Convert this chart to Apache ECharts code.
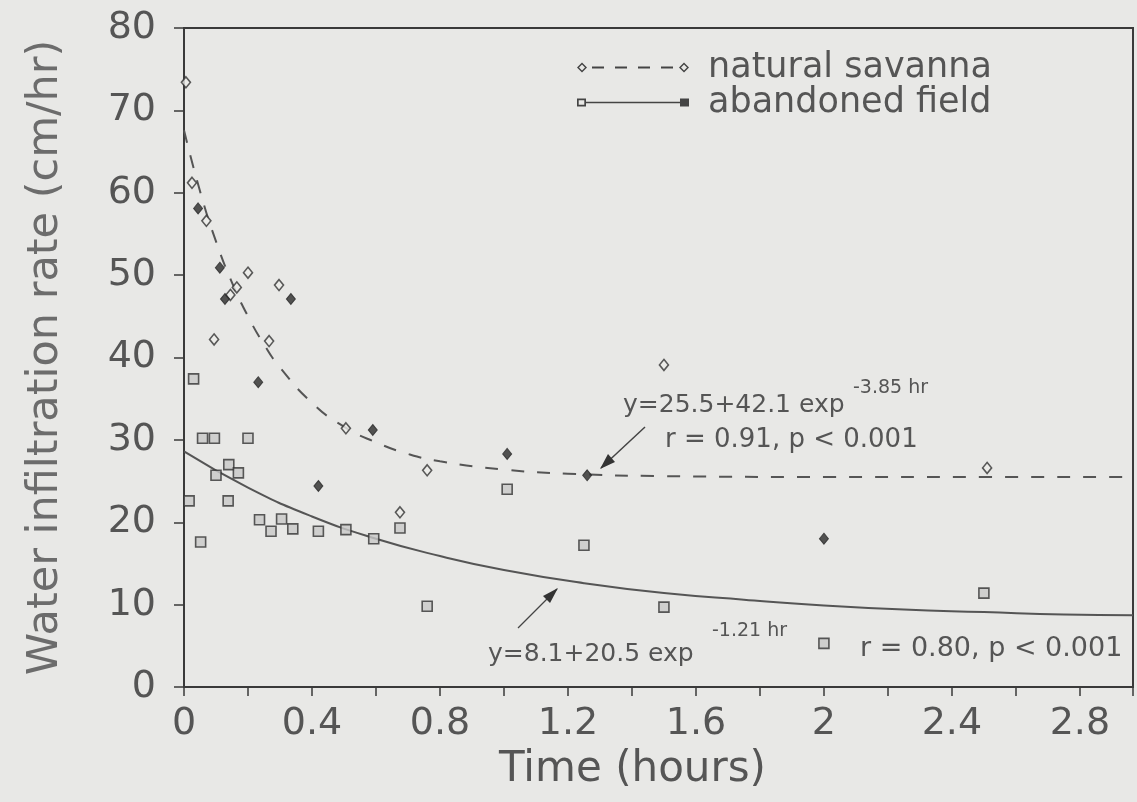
<!DOCTYPE html>
<html>
<head>
<meta charset="utf-8">
<title>Water infiltration rate</title>
<script src="https://cdn.jsdelivr.net/npm/echarts@6/dist/echarts.min.js"></script>
<style>
    html, body { margin: 0; padding: 0; background: #e8e8e6; }
    #main { width: 1137px; height: 802px; }
</style>
</head>
<body>
<div id="main"></div>
<script>
// natural savanna, open markers [hours, cm/hr]
var savannaOpen = [
    [0.006, 73.4], [0.025, 61.2], [0.07, 56.6], [0.145, 47.6], [0.165, 48.5],
    [0.2, 50.3], [0.297, 48.8], [0.094, 42.2], [0.266, 42.0], [0.506, 31.4],
    [0.76, 26.3], [0.675, 21.2], [1.5, 39.1], [2.51, 26.6]
];
// natural savanna, filled markers
var savannaFilled = [
    [0.044, 58.1], [0.112, 50.9], [0.128, 47.1], [0.334, 47.1], [0.232, 37.0],
    [0.59, 31.2], [0.42, 24.4], [1.01, 28.3], [1.26, 25.7], [2.0, 18.0]
];
// abandoned field
var fieldPoints = [
    [0.03, 37.4], [0.058, 30.2], [0.095, 30.2], [0.2, 30.2], [0.016, 22.6],
    [0.138, 22.6], [0.052, 17.6], [0.1, 25.7], [0.14, 27.0], [0.17, 26.0],
    [0.236, 20.3], [0.272, 18.9], [0.305, 20.4], [0.34, 19.2], [0.42, 18.9],
    [0.506, 19.1], [0.593, 18.0], [0.675, 19.3], [0.76, 9.8], [1.01, 24.0],
    [1.25, 17.2], [1.5, 9.7], [2.0, 5.3], [2.5, 11.4]
];
// fitted curves
var savannaFitT = [0, 0.05, 0.1, 0.15, 0.2, 0.25, 0.3, 0.4, 0.5, 0.6, 0.7, 0.8, 1.0, 1.2, 1.5, 2.0, 2.5, 2.966];
var savannaFitY = [67.6, 60.2, 54.1, 49.1, 45.0, 41.6, 38.8, 34.5, 31.6, 29.7, 28.3, 27.4, 26.4, 25.9, 25.6, 25.5, 25.5, 25.5];
var fieldFitT = [0, 0.2, 0.4, 0.6, 0.8, 1.0, 1.25, 1.5, 1.75, 2.0, 2.25, 2.5, 2.75, 2.966];
var fieldFitY = [28.6, 24.2, 20.7, 18.0, 15.9, 14.2, 12.6, 11.4, 10.6, 9.9, 9.4, 9.1, 8.8, 8.7];

var xTickLabels = ['0', '0.4', '0.8', '1.2', '1.6', '2', '2.4', '2.8'];

function zip(xs, ys) {
    return xs.map(function (x, i) { return [x, ys[i]]; });
}

var FONT = '"DejaVu Sans", sans-serif';
var INK = '#555';

// legend keys drawn like the original: marker - line - marker (inner subpaths make hollow shapes)
var savannaIcon = 'path://M0,5L5,0L10,5L5,10Z M2,5L5,8L8,5L5,2Z' +
    ' M15,4h12v2h-12Z M38,4h12v2h-12Z M61,4h12v2h-12Z M84,4h12v2h-12Z' +
    ' M102,5L107,0L112,5L107,10Z M104,5L107,8L110,5L107,2Z';
var fieldIcon = 'path://M0,1h9v8h-9Z M1.7,2.7v4.6h5.6v-4.6Z M9,4.2h94v1.6h-94Z M103,1h9v8h-9Z';

var myChart = echarts.init(document.getElementById('main'));

var option = {
    animation: false,
    backgroundColor: '#e8e8e6',
    grid: {
        left: 184, right: 4, top: 28, bottom: 115,
        show: true, borderColor: '#3a3a3a', borderWidth: 2,
        outerBoundsMode: 'none'
    },
    legend: {
        data: [
            {name: 'natural savanna', icon: savannaIcon, itemStyle: {color: '#444', borderWidth: 0}},
            {name: 'abandoned field', icon: fieldIcon, itemStyle: {color: '#444', borderWidth: 0}}
        ],
        orient: 'vertical',
        left: 572, top: 45,
        itemWidth: 112, itemHeight: 10, itemGap: 0,
        textStyle: {fontFamily: FONT, fontSize: 35, color: INK, lineHeight: 35, padding: [0, 0, 0, 14]}
    },
    xAxis: {
        type: 'value',
        min: 0, max: 2.966, interval: 0.2,
        name: 'Time (hours)',
        nameLocation: 'middle',
        nameGap: 62,
        nameTextStyle: {fontFamily: FONT, fontSize: 42, color: INK, padding: [0, 52, 0, 0]},
        axisLine: {onZero: false, lineStyle: {color: '#3a3a3a', width: 2}},
        axisTick: {inside: false, length: 9, lineStyle: {color: '#3a3a3a', width: 1.5}},
        axisLabel: {
            margin: 18,
            fontFamily: FONT, fontSize: 38, color: INK,
            formatter: function (v) {
                var s = String(+v.toFixed(1));
                return xTickLabels.indexOf(s) >= 0 && Math.abs(v - Math.round(v * 10) / 10) < 1e-6 ? s : '';
            }
        },
        splitLine: {show: false}
    },
    yAxis: {
        type: 'value',
        min: 0, max: 80, interval: 10,
        name: 'Water infiltration rate (cm/hr)',
        nameLocation: 'middle',
        nameRotate: 90,
        nameGap: 117,
        nameTextStyle: {fontFamily: FONT, fontSize: 43, color: '#6c6c6c'},
        axisLine: {lineStyle: {color: '#3a3a3a', width: 2}},
        axisTick: {inside: false, length: 10, lineStyle: {color: '#3a3a3a', width: 1.5}},
        axisLabel: {margin: 28, fontFamily: FONT, fontSize: 38, color: INK},
        splitLine: {show: false}
    },
    series: [
        {
            name: 'natural savanna',
            type: 'line',
            data: zip(savannaFitT, savannaFitY),
            smooth: true,
            showSymbol: false,
            itemStyle: {color: '#555'},
            lineStyle: {color: '#555', width: 2, type: [13, 13]},
            z: 2
        },
        {
            name: 'abandoned field',
            type: 'line',
            data: zip(fieldFitT, fieldFitY),
            smooth: true,
            showSymbol: false,
            itemStyle: {color: '#555'},
            lineStyle: {color: '#555', width: 2, type: 'solid'},
            z: 2
        },
        {
            name: 'natural savanna',
            type: 'scatter',
            data: savannaOpen,
            symbol: 'diamond',
            symbolSize: [9, 11],
            itemStyle: {color: '#ececea', borderColor: '#333', borderWidth: 1.6},
            z: 3
        },
        {
            name: 'natural savanna',
            type: 'scatter',
            data: savannaFilled,
            symbol: 'diamond',
            symbolSize: [9, 11],
            itemStyle: {color: '#2a2a2a', borderColor: '#2a2a2a', borderWidth: 1},
            z: 3
        },
        {
            name: 'abandoned field',
            type: 'scatter',
            data: fieldPoints,
            symbol: 'rect',
            symbolSize: 10,
            itemStyle: {color: '#c8c8c8', borderColor: '#333', borderWidth: 1.6},
            z: 3
        }
    ],
    graphic: [
        // savanna fit annotation
        {type: 'text', x: 623, y: 405, style: {text: 'y=25.5+42.1 exp', font: '25px ' + FONT, fill: INK, verticalAlign: 'middle'}},
        {type: 'text', x: 853, y: 388, style: {text: '-3.85 hr', font: '19px ' + FONT, fill: INK, verticalAlign: 'middle'}},
        {type: 'text', x: 665, y: 440, style: {text: 'r = 0.91, p < 0.001', font: '26px ' + FONT, fill: INK, verticalAlign: 'middle'}},
        {type: 'polyline', shape: {points: [[645, 427], [601, 468]]}, style: {stroke: '#444', lineWidth: 1.5, fill: null}},
        {type: 'polygon', shape: {points: [[600, 469], [615, 462], [608, 454]]}, style: {fill: '#333'}},
        // field fit annotation
        {type: 'text', x: 488, y: 654, style: {text: 'y=8.1+20.5 exp', font: '25px ' + FONT, fill: INK, verticalAlign: 'middle'}},
        {type: 'text', x: 712, y: 631, style: {text: '-1.21 hr', font: '19px ' + FONT, fill: INK, verticalAlign: 'middle'}},
        {type: 'text', x: 860, y: 649, style: {text: 'r = 0.80, p < 0.001', font: '27px ' + FONT, fill: INK, verticalAlign: 'middle'}},
        {type: 'polyline', shape: {points: [[518, 628], [557, 589]]}, style: {stroke: '#444', lineWidth: 1.2, fill: null}},
        {type: 'polygon', shape: {points: [[558, 588], [550, 603], [543, 596]]}, style: {fill: '#333'}}
    ]
};

myChart.setOption(option);
</script>
</body>
</html>
